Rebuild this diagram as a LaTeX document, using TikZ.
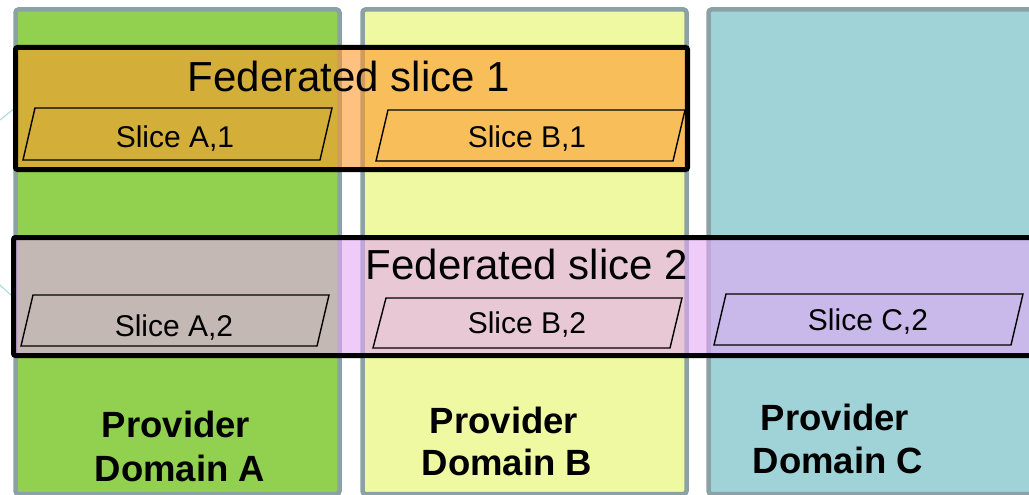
\documentclass[tikz,border=0pt]{standalone}
\usepackage{fontspec}
\setmainfont{Liberation Sans}
\begin{document}
\begin{tikzpicture}[x=1pt,y=-1pt,
  colborder/.style={draw=colgray,line width=4.5pt,rounded corners=3pt},
  fedbox/.style={draw=black,line width=5pt,rounded corners=2pt,fill opacity=0.6},
  slicebox/.style={draw=black,line width=1.4pt,line join=miter},
  slicetext/.style={anchor=base,inner sep=0pt,font=\fontsize{30}{35}\selectfont},
  fedtext/.style={anchor=base,inner sep=0pt,font=\fontsize{42}{48}\selectfont},
  domtext/.style={anchor=base,inner sep=0pt,font=\fontsize{36.5}{43}\selectfont\bfseries},
  stub/.style={draw=stubcyan,line width=1pt}]
\definecolor{colgray}{RGB}{138,162,166}
\definecolor{fillA}{RGB}{146,208,80}
\definecolor{fillB}{RGB}{238,249,161}
\definecolor{fillC}{RGB}{159,211,216}
\definecolor{fedone}{RGB}{255,152,43}
\definecolor{fedtwo}{RGB}{229,168,247}
\definecolor{stubcyan}{RGB}{165,215,222}
\useasboundingbox (0,0) rectangle (1029,495);
\clip (0,0) rectangle (1029,495);
% provider domain columns
\path[colborder,fill=fillA] (15.5,9.5) rectangle (339.5,494);
\path[colborder,fill=fillB] (362.5,9.5) rectangle (686.5,494);
\path[colborder,fill=fillC] (708.5,9.5) rectangle (1045,494);
% stubs of outside connectors
\coordinate (s1a) at (0,120); \coordinate (s1b) at (15,108);
\coordinate (s2a) at (0,285); \coordinate (s2b) at (13,297);
\draw[stub] (s1a) -- (s1b);
\draw[stub] (s2a) -- (s2b);
% federated slices
\path[fedbox,fill=fedone] (15.5,47.5) rectangle (687.5,169.5);
\path[fedbox,fill=fedtwo] (13.5,237.5) rectangle (1045,355.5);
% member slices
\draw[slicebox] (23,160) -- (320,160) -- (332,108) -- (35,108) -- cycle;
\draw[slicebox] (376,161) -- (673,161) -- (685,110) -- (388,110) -- cycle;
\draw[slicebox] (21,346) -- (317,346) -- (329,295) -- (33,295) -- cycle;
\draw[slicebox] (373,348) -- (670,348) -- (682,298) -- (386,298) -- cycle;
\draw[slicebox] (714,345) -- (1011,345) -- (1023,294) -- (726,294) -- cycle;
% texts
\node[fedtext] (f1) at (349,92) {Federated slice 1};
\node[fedtext] (f2) at (527,279) {Federated slice 2};
\node[slicetext] (a1) at (175,147) {Slice A,1};
\node[slicetext] (b1) at (527,147) {Slice B,1};
\node[slicetext] (a2) at (174,336) {Slice A,2};
\node[slicetext] (b2) at (527,333) {Slice B,2};
\node[slicetext] (c2) at (868,330) {Slice C,2};
\node[domtext] (pa) at (176,437) {Provider};
\node[domtext] (da) at (180,481) {Domain A};
\node[domtext] (pb) at (504,433) {Provider};
\node[domtext] (db) at (507,475) {Domain B};
\node[domtext] (pc) at (835,430) {Provider};
\node[domtext] (dc) at (838,473) {Domain C};
\end{tikzpicture}
\end{document}
